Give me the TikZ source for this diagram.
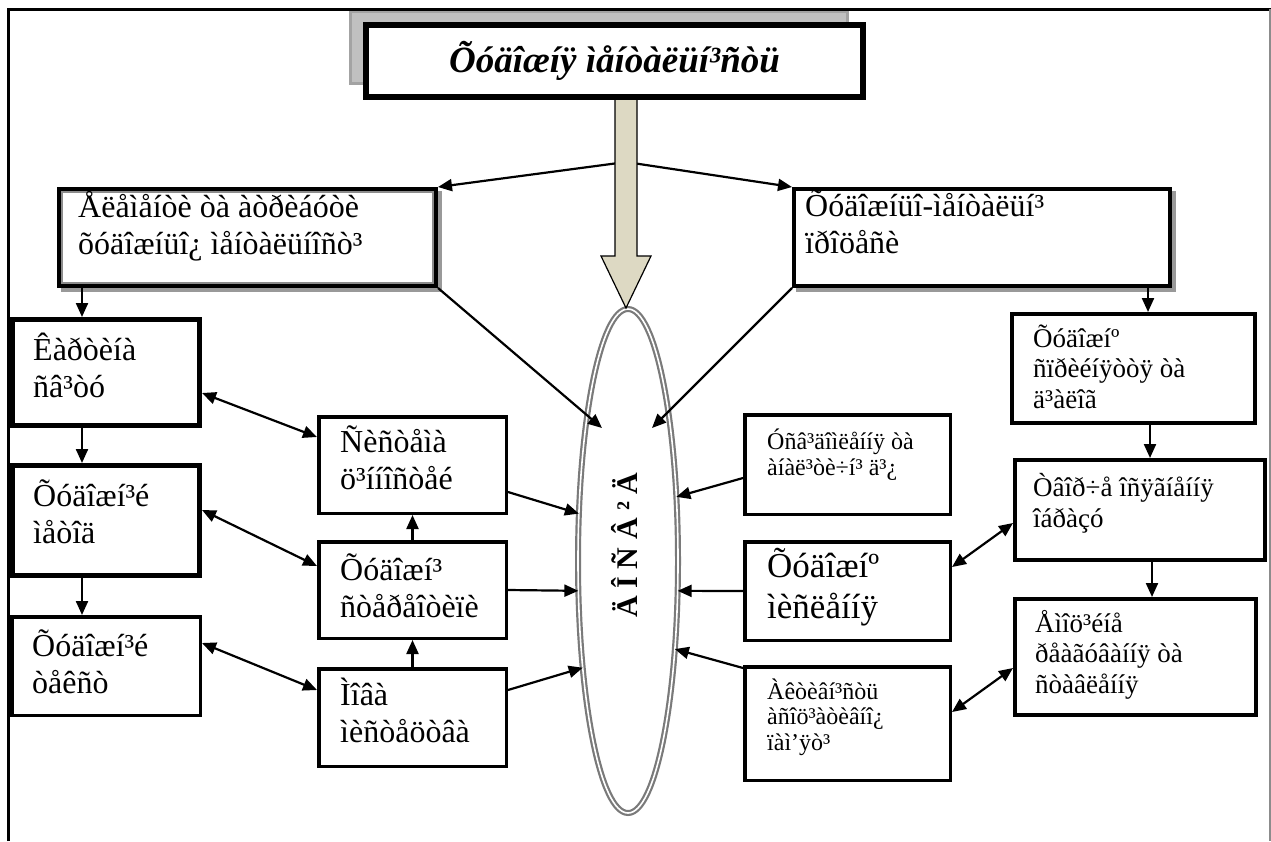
\documentclass[tikz,border=0pt]{standalone}
\usepackage{fontspec}
\setmainfont{Liberation Serif}
\usetikzlibrary{arrows.meta,shapes.geometric}
\definecolor{beige}{HTML}{DDD9C3}
\definecolor{shade}{HTML}{C0C0C0}
\definecolor{ringgray}{HTML}{7A7A7A}

\begin{document}
\begin{tikzpicture}[x=1pt,y=-1pt,
  every node/.style={inner sep=0pt},
  box/.style={draw, fill=white, line width=3.5pt, anchor=north west},
  heavybox/.style={box, line width=5pt},
  sidebox/.style={box, line width=4pt},
  shadowed/.style={preaction={draw=black!40, fill=black!40, transform canvas={xshift=4pt, yshift=-4pt}}},
  % text blocks are placed by the baseline of their last line
  txt/.style={anchor=base west, align=left},
  fA/.style={font=\fontsize{32}{37}\selectfont},
  fS/.style={font=\fontsize{24}{25.5}\selectfont},
  fM/.style={font=\fontsize{35}{41}\selectfont},
  fR/.style={font=\fontsize{27}{30.5}\selectfont},
  arr/.style={line width=2.2pt, -{Triangle[length=14pt,width=12pt]}},
  darr/.style={line width=2.2pt, {Triangle[length=14pt,width=12pt]}-{Triangle[length=14pt,width=12pt]}}]

\useasboundingbox (0,0) rectangle (1271,841);

% upper pair of boxes
\node[sidebox, shadowed, minimum width=377, minimum height=97] (tl) at (57,187) {};
\draw[black!45, line width=1.5pt] ([shift={(5pt,-5pt)}]tl.north west) rectangle ([shift={(-5pt,5pt)}]tl.south east);
\node[sidebox, shadowed, minimum width=376, minimum height=97] (tr) at (792,187) {};
\node[txt, fA] (tl-t) at (78,254) {Åëåìåíòè òà àòðèáóòè\\õóäîæíüî¿ ìåíòàëüíîñò³};
\node[txt, fA] (tr-t) at (805,253) {Õóäîæíüî-ìåíòàëüí³\\ïðîöåñè};

% left column
\node[heavybox, minimum width=187, minimum height=106] (kart) at (10,317) {};
\node[heavybox, minimum width=187, minimum height=110] (metod) at (10,463) {};
\node[box, minimum width=188.5, minimum height=98.5] (tekst) at (10,615) {};
\node[txt, fA] (kart-t) at (33,397) {Êàðòèíà\\ñâ³òó};
\node[txt, fA] (metod-t) at (33,543) {Õóäîæí³é\\ìåòîä};
\node[txt, fA] (tekst-t) at (32,693) {Õóäîæí³é\\òåêñò};

% inner left column
\node[box, minimum width=187.5, minimum height=96.5] (sys) at (317,415) {};
\node[box, minimum width=187.5, minimum height=96.5] (ster) at (317,540) {};
\node[box, minimum width=187.5, minimum height=97.5] (mova) at (317,667) {};
\node[txt, fA] (sys-t) at (340,489) {Ñèñòåìà\\ö³ííîñòåé};
\node[txt, fA] (ster-t) at (340,617) {Õóäîæí³\\ñòåðåîòèïè};
\node[txt, fA] (mova-t) at (340,742) {Ìîâà\\ìèñòåöòâà};

% inner right column
\node[box, minimum width=205.5, minimum height=99.5] (usv) at (743,413) {};
\node[box, minimum width=205.5, minimum height=98.5] (mysl) at (743,540) {};
\node[box, minimum width=205.5, minimum height=113.5] (akt) at (743,665) {};
\node[txt, fS] (usv-t) at (767,475) {Óñâ³äîìëåííÿ òà\\àíàë³òè÷í³ ä³¿};
\node[txt, fM] (mysl-t) at (767,618) {Õóäîæíº\\ìèñëåííÿ};
\node[txt, fS] (akt-t) at (767,750) {Àêòèâí³ñòü\\àñîö³àòèâíî¿\\ïàì’ÿò³};

% right column
\node[sidebox, minimum width=243, minimum height=109] (spryi) at (1010,312) {};
\node[sidebox, minimum width=250, minimum height=100] (tvor) at (1013,458) {};
\node[sidebox, minimum width=241, minimum height=116] (emo) at (1013,597) {};
\node[txt, fR] (spryi-t) at (1033,408) {Õóäîæíº\\ñïðèéíÿòòÿ òà\\ä³àëîã};
\node[txt, fR] (tvor-t) at (1033,527) {Òâîð÷å îñÿãíåííÿ\\îáðàçó};
\node[txt, fR] (emo-t) at (1035,693) {Åìîö³éíå\\ðåàãóâàííÿ òà\\ñòàâëåííÿ};

% central ellipse
\node[ellipse, draw=ringgray, double=white, double distance=1.6pt, line width=2.2pt,
      minimum width=100, minimum height=504, outer sep=0pt] (core) at (628,561) {};
\node[rotate=90, font=\fontsize{30}{34}\selectfont\bfseries] (core-t) at (624,545) {Ä Î Ñ Â ² Ä};

% connectors
\coordinate (fork) at (626,162);
\coordinate (inL) at (602,428);
\coordinate (inR) at (652,428);
\draw[arr] (fork) -- (tl.north east);
\draw[arr] (fork) -- (tr.north west);
\draw[arr] (tl.south east) -- (inL);
\draw[arr] (tr.south west) -- (inR);

\draw[arr] ([xshift=25pt]tl.south west) -- ([xshift=72pt]kart.north west);
\draw[arr] ([xshift=72pt]kart.south west) -- ([xshift=72pt]metod.north west);
\draw[arr] ([xshift=72pt]metod.south west) -- ([xshift=72pt]tekst.north west);

\draw[arr] ([xshift=-24pt]tr.south east) -- ([xshift=138pt]spryi.north west);
\draw[arr] ([xshift=140pt]spryi.south west) -- ([xshift=137pt]tvor.north west);
\draw[arr] ([xshift=139pt]tvor.south west) -- ([xshift=139pt]emo.north west);

\draw[darr] ([yshift=-20.5pt]kart.east) -- ([yshift=28pt]sys.west);
\draw[darr] ([yshift=10.5pt]metod.east) -- ([yshift=24pt]ster.west);
\draw[darr] ([yshift=23pt]tekst.east) -- ([yshift=27.5pt]mova.west);

\draw[arr] (ster.north) -- (sys.south);
\draw[arr] (mova.north) -- (ster.south);

\draw[arr] ([yshift=-27pt]sys.east) -- (core.136);
\draw[arr] (ster.east) -- (core.211);
\draw[arr] ([yshift=27.5pt]mova.east) -- (core.247);

\draw[arr] ([yshift=-13.5pt]usv.west) -- (core.53);
\draw[arr] (mysl.west) -- (core.329);
\draw[arr] ([yshift=55.5pt]akt.west) -- (core.298);

\draw[darr] ([yshift=24pt]mysl.east) -- ([yshift=-13pt]tvor.west);
\draw[darr] ([yshift=11.5pt]akt.east) -- ([yshift=-11pt]emo.west);

% broad arrow from the heading into the ellipse
\draw[fill=beige, line width=1.2pt, line join=miter]
  (615,98) -- (637,98) -- (637,256) -- (651,256) -- (626,308) -- (601,256) -- (615,256) -- cycle;

% heading
\node[box, line width=6pt, minimum width=497, minimum height=72,
      preaction={draw=shade!85!black, fill=shade, line width=3pt, transform canvas={xshift=-16pt, yshift=14pt}}]
  (title) at (363,22) {};
\node[font=\fontsize{37}{40}\selectfont\bfseries\itshape] (title-t) at (title.center) {Õóäîæíÿ ìåíòàëüí³ñòü};

% page frame
\draw[line width=3pt] (8,841) -- (8,9) -- (1271,9);
\draw[black!45, line width=1.5pt] (1270,9) -- (1270,841);
\end{tikzpicture}
\end{document}
